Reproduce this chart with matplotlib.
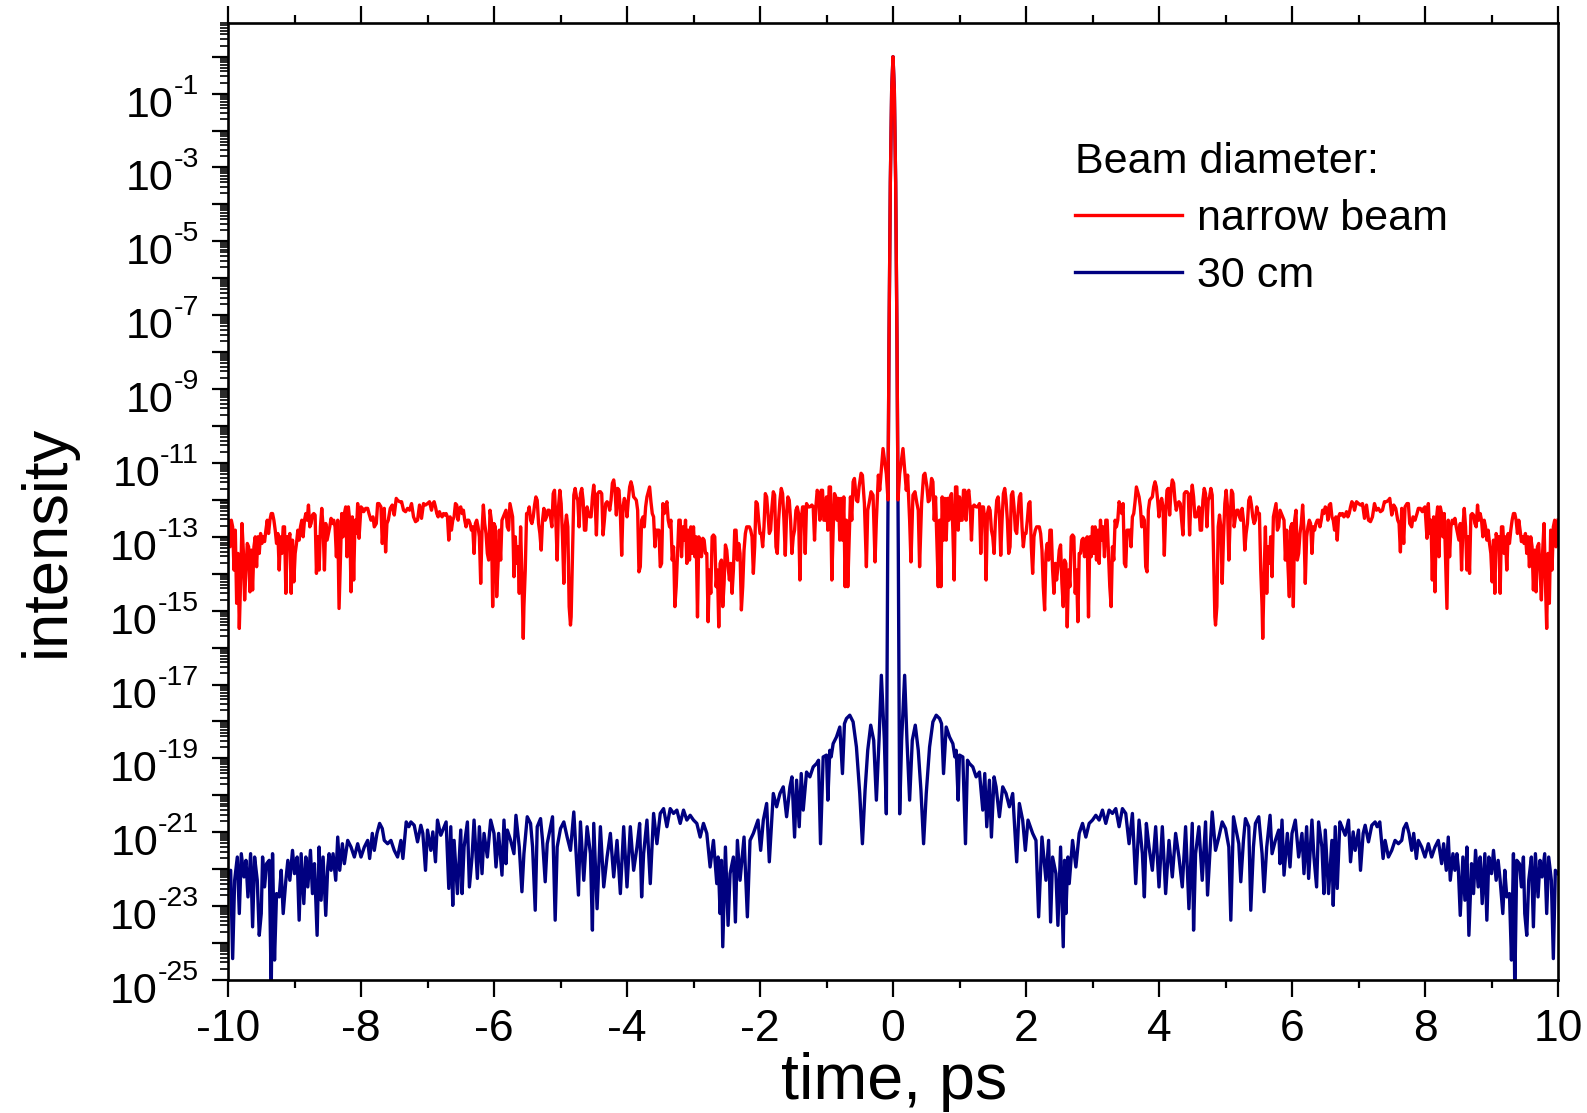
import numpy as np
import matplotlib
matplotlib.use("Agg")
import matplotlib.pyplot as plt
import matplotlib.transforms as mtransforms
from matplotlib.ticker import FixedLocator, NullFormatter, MultipleLocator

plt.rcParams['font.family'] = ['Liberation Sans', 'DejaVu Sans']
plt.rcParams['axes.unicode_minus'] = False

# ---- data: log10(intensity), for t >= 0 (ps); pulse is symmetric in t ----
red_t_half = [
    0, 0.02, 0.04, 0.06, 0.075, 0.1, 0.15, 0.18, 0.2, 0.22,
    0.25, 0.27, 0.3, 0.33, 0.36, 0.38, 0.4, 0.43, 0.46, 0.48,
    0.51, 0.53, 0.55, 0.58, 0.6, 0.62, 0.64, 0.66, 0.68, 0.7,
    0.72, 0.74, 0.76, 0.78, 0.8, 0.82, 0.84, 0.86, 0.88, 0.9,
    0.92, 0.94, 0.96, 0.98, 1.0, 1.02, 1.04, 1.06, 1.08, 1.1,
    1.12, 1.14, 1.16, 1.18, 1.2, 1.22, 1.25, 1.28, 1.3, 1.32,
    1.34, 1.36, 1.38, 1.4, 1.42, 1.44, 1.46, 1.48, 1.5, 1.52,
    1.54, 1.56, 1.58, 1.6, 1.62, 1.64, 1.66, 1.68, 1.7, 1.72,
    1.74, 1.76, 1.78, 1.8, 1.82, 1.84, 1.86, 1.88, 1.9, 1.92,
    1.94, 1.96, 1.98, 2.0, 2.02, 2.04, 2.06, 2.08, 2.1, 2.12,
    2.14, 2.16, 2.18, 2.2, 2.22, 2.24, 2.26, 2.28, 2.3, 2.32,
    2.34, 2.36, 2.38, 2.4, 2.42, 2.44, 2.46, 2.48, 2.5, 2.52,
    2.54, 2.56, 2.58, 2.6, 2.62, 2.64, 2.66, 2.68, 2.7, 2.72,
    2.74, 2.76, 2.78, 2.8, 2.82, 2.84, 2.86, 2.88, 2.9, 2.92,
    2.94, 2.96, 2.98, 3.0, 3.02, 3.04, 3.06, 3.08, 3.1, 3.12,
    3.14, 3.16, 3.18, 3.2, 3.22, 3.24, 3.26, 3.28, 3.3, 3.32,
    3.34, 3.36, 3.38, 3.4, 3.42, 3.44, 3.46, 3.48, 3.5, 3.52,
    3.54, 3.56, 3.58, 3.6, 3.62, 3.64, 3.66, 3.68, 3.7, 3.72,
    3.74, 3.76, 3.78, 3.8, 3.82, 3.84, 3.86, 3.88, 3.9, 3.92,
    3.94, 3.96, 3.98, 4.0, 4.02, 4.04, 4.06, 4.08, 4.1, 4.12,
    4.14, 4.16, 4.18, 4.2, 4.22, 4.24, 4.26, 4.28, 4.3, 4.32,
    4.34, 4.36, 4.38, 4.4, 4.42, 4.44, 4.46, 4.48, 4.5, 4.52,
    4.54, 4.56, 4.58, 4.6, 4.62, 4.64, 4.66, 4.68, 4.7, 4.72,
    4.74, 4.76, 4.78, 4.8, 4.82, 4.84, 4.85, 4.87, 4.89, 4.91,
    4.93, 4.95, 4.97, 4.99, 5.01, 5.03, 5.05, 5.07, 5.09, 5.11,
    5.13, 5.15, 5.17, 5.19, 5.21, 5.23, 5.25, 5.27, 5.29, 5.31,
    5.33, 5.35, 5.37, 5.39, 5.41, 5.43, 5.45, 5.47, 5.49, 5.51,
    5.53, 5.55, 5.56, 5.58, 5.6, 5.62, 5.64, 5.66, 5.68, 5.7,
    5.72, 5.74, 5.76, 5.78, 5.8, 5.82, 5.84, 5.86, 5.88, 5.9,
    5.92, 5.94, 5.96, 5.98, 6.0, 6.02, 6.04, 6.06, 6.08, 6.1,
    6.12, 6.14, 6.16, 6.18, 6.2, 6.22, 6.24, 6.26, 6.28, 6.3,
    6.32, 6.34, 6.36, 6.38, 6.4, 6.42, 6.44, 6.46, 6.48, 6.5,
    6.52, 6.54, 6.56, 6.58, 6.6, 6.62, 6.64, 6.66, 6.68, 6.7,
    6.72, 6.74, 6.76, 6.78, 6.8, 6.82, 6.84, 6.86, 6.88, 6.9,
    6.92, 6.94, 6.97, 7.0, 7.03, 7.06, 7.09, 7.12, 7.15, 7.18,
    7.21, 7.24, 7.27, 7.3, 7.33, 7.36, 7.39, 7.42, 7.45, 7.47,
    7.5, 7.53, 7.56, 7.59, 7.61, 7.63, 7.65, 7.68, 7.7, 7.73,
    7.75, 7.77, 7.8, 7.82, 7.85, 7.88, 7.9, 7.93, 7.96, 7.98,
    8.0, 8.03, 8.05, 8.07, 8.09, 8.11, 8.13, 8.15, 8.17, 8.19,
    8.21, 8.23, 8.25, 8.27, 8.29, 8.31, 8.33, 8.35, 8.37, 8.39,
    8.41, 8.43, 8.45, 8.47, 8.49, 8.51, 8.53, 8.55, 8.57, 8.59,
    8.61, 8.63, 8.65, 8.67, 8.69, 8.71, 8.73, 8.75, 8.77, 8.79,
    8.81, 8.83, 8.85, 8.87, 8.89, 8.91, 8.93, 8.95, 8.97, 8.99,
    9.01, 9.03, 9.05, 9.07, 9.09, 9.11, 9.13, 9.15, 9.17, 9.19,
    9.21, 9.23, 9.25, 9.27, 9.29, 9.31, 9.33, 9.35, 9.37, 9.39,
    9.41, 9.43, 9.45, 9.47, 9.49, 9.51, 9.53, 9.55, 9.57, 9.59,
    9.61, 9.63, 9.65, 9.67, 9.69, 9.71, 9.73, 9.75, 9.77, 9.79,
    9.81, 9.83, 9.85, 9.87, 9.89, 9.91, 9.93, 9.95, 9.97, 10.0,
]
red_log_half = [
    0.0, -0.9, -3.4, -7.7, -12.0, -11.3, -10.61, -11.28, -11.74, -11.33,
    -12.55, -13.68, -11.87, -11.78, -12.10, -12.28, -13.81, -12.10, -11.33, -11.28,
    -11.65, -12.05, -12.01, -11.42, -11.51, -12.55, -11.92, -13.09, -14.35, -12.55,
    -14.35, -11.92, -13.09, -11.96, -13.09, -11.96, -12.55, -11.92, -11.83, -12.82,
    -14.17, -11.65, -11.65, -12.82, -11.92, -12.55, -12.55, -11.74, -11.74, -12.55,
    -11.83, -11.74, -12.19, -13.09, -12.19, -12.14, -12.19, -12.19, -12.10, -13.45,
    -12.19, -12.19, -12.55, -14.17, -12.37, -12.19, -12.28, -12.82, -13.00, -13.45,
    -12.55, -12.01, -11.92, -12.37, -13.50, -12.55, -11.83, -11.69, -12.01, -12.55,
    -13.45, -13.27, -11.87, -11.78, -12.19, -12.82, -12.91, -12.37, -11.92, -11.83,
    -12.73, -13.27, -12.91, -12.91, -12.55, -12.10, -12.05, -13.27, -13.99, -13.00,
    -12.82, -12.73, -12.73, -12.73, -12.91, -13.36, -14.35, -14.98, -13.45, -13.18,
    -13.63, -12.82, -12.82, -13.90, -14.53, -13.72, -14.17, -13.81, -13.36, -13.22,
    -14.26, -14.89, -13.63, -13.72, -15.44, -13.90, -14.35, -13.00, -12.95, -13.00,
    -14.53, -13.90, -15.30, -13.45, -13.45, -13.09, -13.04, -13.54, -13.09, -13.00,
    -15.17, -13.00, -13.54, -12.73, -13.45, -12.73, -13.63, -12.82, -13.72, -12.55,
    -13.09, -12.73, -13.54, -12.55, -12.55, -13.45, -14.35, -14.89, -13.27, -13.63,
    -12.55, -12.73, -12.55, -12.05, -12.19, -12.37, -12.10, -13.72, -13.81, -12.82,
    -12.82, -12.82, -13.27, -12.46, -12.37, -12.05, -11.65, -11.78, -11.92, -12.19,
    -12.73, -12.46, -12.55, -13.81, -13.95, -12.28, -12.01, -11.96, -11.92, -11.65,
    -11.51, -11.65, -12.01, -12.46, -12.10, -11.96, -12.19, -13.50, -12.37, -11.74,
    -11.69, -12.41, -11.74, -11.46, -11.55, -12.01, -12.28, -12.10, -12.05, -12.10,
    -12.55, -12.95, -11.83, -11.78, -11.78, -11.83, -12.95, -12.01, -11.60, -11.92,
    -12.46, -12.46, -12.37, -12.19, -12.82, -12.82, -12.01, -11.69, -11.83, -12.73,
    -12.01, -11.92, -11.69, -11.87, -13.45, -15.17, -15.39, -14.89, -12.73, -12.41,
    -12.73, -14.26, -13.00, -12.10, -11.74, -12.19, -13.63, -12.55, -11.74, -11.83,
    -12.73, -12.46, -12.28, -12.28, -12.46, -12.55, -12.23, -12.55, -13.36, -12.91,
    -12.64, -12.01, -11.92, -12.14, -12.46, -12.64, -12.55, -12.19, -12.37, -12.37,
    -13.90, -14.89, -15.75, -14.08, -12.73, -14.53, -13.27, -13.72, -13.00, -14.08,
    -12.46, -12.28, -12.10, -12.82, -12.73, -12.28, -12.37, -12.46, -12.55, -13.63,
    -12.82, -13.81, -14.62, -12.73, -12.64, -14.89, -12.55, -12.28, -13.63, -13.45,
    -12.91, -12.64, -12.14, -12.82, -14.26, -13.00, -12.73, -12.55, -12.64, -13.45,
    -12.73, -12.82, -12.64, -12.55, -12.55, -12.73, -12.55, -12.28, -12.37, -12.19,
    -12.23, -12.55, -12.14, -12.10, -12.46, -12.55, -12.82, -12.46, -13.09, -12.46,
    -12.37, -12.41, -12.37, -12.46, -12.41, -12.32, -12.46, -12.37, -12.19, -12.05,
    -12.10, -12.28, -12.05, -12.10, -12.14, -12.10, -12.50, -12.14, -12.55, -12.59,
    -12.46, -12.10, -12.28, -12.23, -12.32, -12.28, -12.05, -12.05, -12.01, -11.96,
    -12.41, -12.14, -12.23, -12.55, -12.64, -13.41, -12.23, -13.18, -12.19, -12.10,
    -12.10, -12.64, -12.73, -12.46, -12.55, -12.37, -12.23, -12.23, -12.32, -12.23,
    -12.19, -13.04, -12.10, -12.91, -12.55, -14.17, -12.46, -14.49, -12.55, -12.19,
    -13.54, -12.19, -12.37, -13.00, -12.37, -13.63, -14.94, -12.55, -13.54, -12.73,
    -12.55, -12.64, -12.50, -12.73, -12.91, -13.09, -12.64, -13.90, -12.73, -12.23,
    -12.73, -13.90, -13.00, -13.99, -12.41, -12.37, -12.41, -12.64, -12.73, -12.14,
    -12.55, -12.37, -12.55, -13.00, -12.55, -12.73, -13.09, -12.82, -13.18, -13.45,
    -14.22, -13.09, -14.53, -12.91, -13.09, -13.00, -14.53, -12.73, -12.73, -13.45,
    -13.00, -13.90, -12.91, -13.18, -12.82, -12.55, -12.37, -12.37, -12.55, -12.91,
    -12.55, -12.82, -13.13, -13.00, -13.18, -12.91, -13.45, -13.00, -13.81, -13.00,
    -13.27, -14.44, -13.36, -14.49, -13.27, -13.18, -13.90, -14.71, -13.36, -12.64,
    -14.17, -15.48, -13.45, -14.80, -12.82, -13.90, -12.73, -12.55, -13.27, -12.55,
]

blue_t_half = [
    0, 0.02, 0.04, 0.06, 0.08, 0.1, 0.13, 0.175, 0.21, 0.25,
    0.29, 0.335, 0.38, 0.42, 0.46, 0.5, 0.55, 0.6, 0.65, 0.7,
    0.73, 0.76, 0.8, 0.85, 0.9, 0.93, 0.95, 0.98, 1.0, 1.05,
    1.09, 1.12, 1.15, 1.2, 1.25, 1.3, 1.35, 1.38, 1.41, 1.45,
    1.48, 1.52, 1.55, 1.6, 1.65, 1.7, 1.75, 1.8, 1.86, 1.9,
    1.95, 1.99, 2.03, 2.1, 2.15, 2.19, 2.24, 2.3, 2.34, 2.37,
    2.4, 2.45, 2.48, 2.52, 2.56, 2.58, 2.6, 2.63, 2.65, 2.7,
    2.75, 2.8, 2.85, 2.9, 2.95, 3.0, 3.05, 3.1, 3.15, 3.2,
    3.25, 3.3, 3.35, 3.4, 3.45, 3.5, 3.55, 3.6, 3.65, 3.7,
    3.75, 3.78, 3.81, 3.85, 3.9, 3.95, 4.0, 4.05, 4.1, 4.15,
    4.2, 4.25, 4.3, 4.35, 4.4, 4.45, 4.5, 4.52, 4.55, 4.6,
    4.65, 4.7, 4.73, 4.8, 4.85, 4.9, 4.95, 5.0, 5.05, 5.08,
    5.12, 5.15, 5.2, 5.23, 5.27, 5.3, 5.35, 5.38, 5.42, 5.45,
    5.5, 5.55, 5.58, 5.62, 5.67, 5.7, 5.75, 5.8, 5.82, 5.85,
    5.88, 5.93, 5.97, 6.0, 6.05, 6.1, 6.15, 6.18, 6.22, 6.25,
    6.3, 6.33, 6.37, 6.4, 6.45, 6.48, 6.5, 6.55, 6.6, 6.62,
    6.65, 6.68, 6.72, 6.75, 6.8, 6.85, 6.88, 6.92, 6.95, 7.0,
    7.03, 7.07, 7.1, 7.15, 7.2, 7.25, 7.28, 7.32, 7.37, 7.4,
    7.45, 7.5, 7.55, 7.6, 7.65, 7.68, 7.72, 7.76, 7.8, 7.83,
    7.87, 7.9, 7.95, 8.0, 8.05, 8.1, 8.15, 8.2, 8.25, 8.28,
    8.32, 8.35, 8.38, 8.42, 8.45, 8.48, 8.5, 8.53, 8.57, 8.6,
    8.63, 8.66, 8.7, 8.73, 8.76, 8.8, 8.83, 8.86, 8.9, 8.93,
    8.96, 9.0, 9.03, 9.07, 9.1, 9.13, 9.17, 9.2, 9.23, 9.27,
    9.3, 9.33, 9.35, 9.38, 9.42, 9.45, 9.48, 9.5, 9.53, 9.56,
    9.6, 9.63, 9.66, 9.7, 9.73, 9.76, 9.8, 9.83, 9.86, 9.9,
    9.93, 9.96, 10.0,
]
blue_log_half = [
    0.0, -0.9, -3.4, -7.7, -13.5, -20.5, -18.5, -16.75, -18.51, -20.13,
    -18.51, -18.10, -18.78, -19.86, -21.31, -19.95, -18.69, -18.01, -17.83, -17.92,
    -18.06, -19.41, -18.15, -18.42, -18.60, -18.96, -18.78, -20.13, -18.91, -18.96,
    -21.31, -19.05, -19.14, -19.23, -19.50, -19.37, -20.40, -19.41, -20.85, -19.59,
    -21.13, -19.50, -19.77, -20.58, -19.77, -19.95, -20.31, -19.95, -21.80, -20.22,
    -20.67, -21.49, -20.67, -21.03, -21.22, -23.29, -21.13, -22.30, -21.22, -23.43,
    -21.67, -22.12, -23.52, -21.40, -24.10, -21.76, -23.20, -21.67, -22.39, -21.22,
    -21.94, -21.03, -20.76, -21.13, -20.76, -20.67, -20.54, -20.67, -20.40, -20.76,
    -20.40, -20.49, -20.36, -20.85, -20.36, -20.49, -21.31, -20.49, -22.39, -20.67,
    -21.58, -22.75, -20.76, -21.40, -22.03, -20.85, -22.48, -20.85, -22.66, -21.22,
    -22.21, -21.03, -21.67, -22.48, -20.85, -23.07, -20.76, -23.65, -21.58, -20.85,
    -22.30, -20.72, -22.70, -20.45, -21.49, -21.13, -20.72, -20.90, -21.40, -23.38,
    -20.58, -20.85, -21.31, -22.34, -21.22, -20.63, -20.85, -23.11, -21.40, -20.76,
    -20.58, -21.58, -22.61, -21.40, -20.54, -21.58, -21.22, -20.94, -21.85, -20.67,
    -22.16, -21.03, -21.94, -21.03, -20.67, -21.67, -21.03, -22.12, -20.85, -22.25,
    -20.67, -21.67, -22.48, -20.72, -21.40, -22.66, -20.94, -22.66, -21.22, -22.98,
    -20.85, -22.52, -20.72, -20.85, -21.08, -20.67, -21.80, -20.99, -21.49, -20.94,
    -22.03, -21.03, -20.81, -21.26, -20.81, -20.72, -20.85, -20.72, -21.71, -21.22,
    -21.67, -21.49, -21.22, -21.31, -21.22, -20.90, -20.76, -21.03, -21.49, -21.03,
    -21.71, -21.22, -21.40, -21.67, -21.31, -21.67, -21.40, -21.22, -21.85, -21.31,
    -22.03, -21.13, -22.30, -21.58, -22.03, -21.58, -21.94, -23.25, -21.67, -22.84,
    -21.40, -23.79, -21.85, -22.66, -21.49, -22.48, -21.67, -22.93, -21.58, -23.38,
    -21.67, -22.12, -21.49, -22.30, -21.76, -22.30, -23.20, -22.03, -22.75, -22.66,
    -24.46, -21.58, -25.30, -21.76, -21.85, -22.48, -21.67, -23.20, -23.79, -22.30,
    -21.67, -23.56, -21.58, -22.75, -21.76, -22.21, -21.58, -23.20, -21.67, -22.30,
    -24.42, -22.03, -22.12,
]

legend_title = "Beam diameter:"
series_names = ["narrow beam", "30 cm"]
series_colors = ["#ff0000", "#000080"]
x_ticks = [-10, -8, -6, -4, -2, 0, 2, 4, 6, 8, 10]
y_label_exponents = list(range(-25, 0, 2))


def mirror(t, v):
    t = np.asarray(t, dtype=float)
    v = np.asarray(v, dtype=float)
    return np.concatenate([-t[::-1], t[1:]]), np.concatenate([v[::-1], v[1:]])


tr, vr = mirror(red_t_half, red_log_half)
tb, vb = mirror(blue_t_half, blue_log_half)

W, H = 1587, 1113
fig = plt.figure(figsize=(W / 100, H / 100), dpi=100)
ax_l, ax_r, ax_t, ax_b = 228, 1558, 23.3, 980
ax = fig.add_axes([ax_l / W, 1 - ax_b / H, (ax_r - ax_l) / W, (ax_b - ax_t) / H])

lw = 2.4
l_blue, = ax.plot(tb, 10.0 ** vb, color=series_colors[1], lw=lw, solid_joinstyle='round')
l_red, = ax.plot(tr, 10.0 ** vr, color=series_colors[0], lw=lw, solid_joinstyle='round')

ax.set_yscale('log')
ax.set_xlim(-10, 10)
ax.set_ylim(1e-25, 10 ** 0.904)

for s in ax.spines.values():
    s.set_linewidth(1.9)

ax.yaxis.set_major_locator(FixedLocator(10.0 ** np.arange(-25, 1)))
ax.yaxis.set_minor_locator(FixedLocator([m * 10.0 ** e for e in range(-25, 1) for m in range(2, 10)]))
ax.yaxis.set_major_formatter(NullFormatter())
ax.yaxis.set_minor_formatter(NullFormatter())
ax.tick_params(axis='y', which='major', direction='out', length=11.5, width=1.6, left=True, right=False)
ax.tick_params(axis='y', which='minor', direction='out', length=5.8, width=1.2, left=True, right=False)

ax.set_xticks(x_ticks)
ax.set_xticklabels([str(v) for v in x_ticks])
ax.xaxis.set_minor_locator(MultipleLocator(1))
ax.tick_params(axis='x', which='major', direction='out', length=12, width=1.6, top=True, bottom=True,
               labelsize=32, pad=9)
ax.tick_params(axis='x', which='minor', direction='out', length=5.8, width=1.6, top=True, bottom=True)

# y tick labels: "10" with raised exponent
renderer = fig.canvas.get_renderer()
ytrans = mtransforms.blended_transform_factory(fig.transFigure, ax.transData)
for e in y_label_exponents:
    te = fig.text(199 / W, 10.0 ** e, str(e),
                  transform=mtransforms.offset_copy(ytrans, fig=fig, x=0, y=0, units='dots'),
                  ha='right', va='baseline', fontsize=20.5)
    bb = te.get_window_extent(renderer)
    fig.text(bb.x0 / W, 10.0 ** e, "10",
             transform=mtransforms.offset_copy(ytrans, fig=fig, x=0, y=-23, units='dots'),
             ha='right', va='baseline', fontsize=31)

fig.text(894 / W, 1 - 1099 / H, "time, ps", ha='center', va='baseline', fontsize=46.5)
fig.text(64 / W, 1 - 541 / H, "intensity", rotation=90, rotation_mode='anchor',
         ha='center', va='baseline', fontsize=45.5)

leg = ax.legend(handles=[l_red, l_blue], labels=series_names, title=legend_title,
                loc='upper left', bbox_to_anchor=(0.637, 0.876), frameon=False,
                fontsize=31, title_fontsize=31, handlelength=2.49, handletextpad=0.35,
                labelspacing=0.4, borderpad=0, borderaxespad=0, alignment='left')

fig.savefig("out.png", dpi=100)
